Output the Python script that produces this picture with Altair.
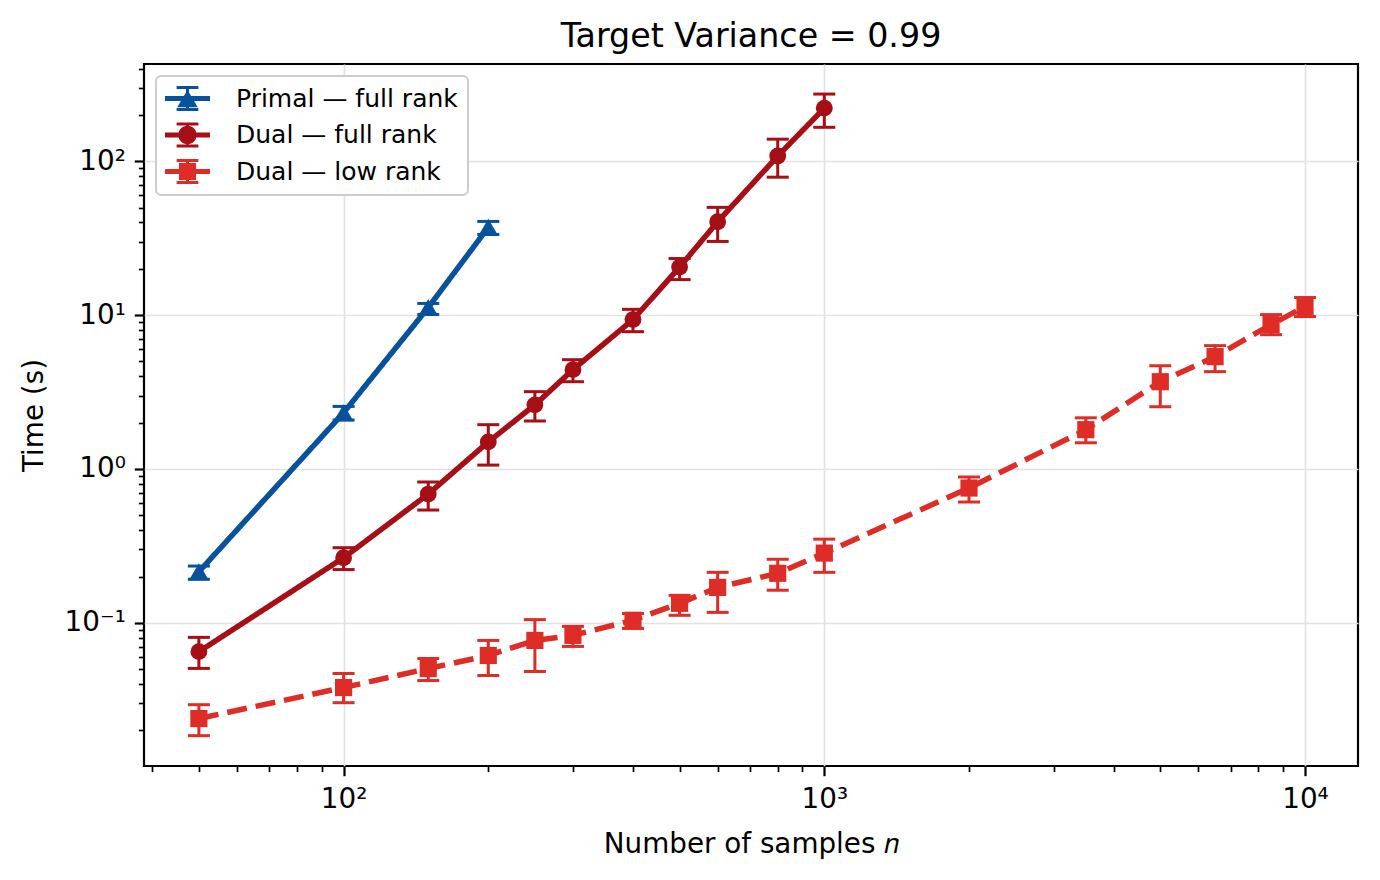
import json
import altair as alt
import pandas as pd

# ---------------- data ----------------
series_names = ["Primal — full rank", "Dual — full rank", "Dual — low rank"]
series_colors = ["#08519c", "#a50f15", "#de2d26"]

primal_n = [50, 100, 150, 200]
primal_t = [0.215, 2.32, 11.2, 37.2]
primal_lo = [0.192, 2.08, 10.1, 33.4]
primal_hi = [0.234, 2.55, 11.9, 40.6]

dualfull_n = [50, 100, 150, 200, 250, 300, 400, 500, 600, 800, 1000]
dualfull_t = [0.065, 0.265, 0.687, 1.50, 2.61, 4.42, 9.35, 20.5, 40.4, 108, 221]
dualfull_lo = [0.0506, 0.222, 0.541, 1.06, 2.05, 3.69, 7.8, 17.0, 30.1, 78.7, 166]
dualfull_hi = [0.0805, 0.308, 0.823, 1.94, 3.18, 5.13, 10.9, 23.3, 50.1, 139, 273]

duallow_n = [50, 100, 150, 200, 250, 300, 400, 500, 600, 800, 1000,
             2000, 3500, 5000, 6500, 8500, 10000]
duallow_t = [0.0239, 0.038, 0.0505, 0.0614, 0.0769, 0.083, 0.104, 0.134, 0.170,
             0.210, 0.284, 0.752, 1.80, 3.69, 5.37, 8.67, 11.36]
duallow_lo = [0.0185, 0.0303, 0.0422, 0.0455, 0.0483, 0.0703, 0.092, 0.112, 0.117,
              0.163, 0.213, 0.61, 1.48, 2.54, 4.29, 7.46, 9.78]
duallow_hi = [0.0294, 0.0469, 0.0587, 0.0769, 0.105, 0.0949, 0.115, 0.151, 0.213,
              0.259, 0.350, 0.887, 2.15, 4.69, 6.33, 10.07, 13.0]

x_domain = [38.44, 12890]
y_domain = [0.01175, 428]

x_major_ticks = [100, 1000, 10000]
x_major_labels = ["10²", "10³", "10⁴"]
x_minor_ticks = [40, 50, 60, 70, 80, 90, 200, 300, 400, 500, 600, 700, 800, 900,
                 2000, 3000, 4000, 5000, 6000, 7000, 8000, 9000]
y_major_ticks = [0.1, 1, 10, 100]
y_major_labels = ["10⁻¹", "10⁰", "10¹", "10²"]
y_minor_ticks = [0.02, 0.03, 0.04, 0.05, 0.06, 0.07, 0.08, 0.09,
                 0.2, 0.3, 0.4, 0.5, 0.6, 0.7, 0.8, 0.9,
                 2, 3, 4, 5, 6, 7, 8, 9, 20, 30, 40, 50, 60, 70, 80, 90,
                 200, 300, 400]

title_text = "Target Variance = 0.99"
x_title = "Number of samples 𝑛"
y_title = "Time (s)"

# ---------------- table ----------------
rows = []
for name, ns, ts, los, his in [
    (series_names[0], primal_n, primal_t, primal_lo, primal_hi),
    (series_names[1], dualfull_n, dualfull_t, dualfull_lo, dualfull_hi),
    (series_names[2], duallow_n, duallow_t, duallow_lo, duallow_hi),
]:
    for n, t, lo, hi in zip(ns, ts, los, his):
        rows.append({"series": name, "n": n, "t": t, "lo": lo, "hi": hi})
df = pd.DataFrame(rows)

FONT = "DejaVu Sans"


def make_axis(major, labels, minor, label_pad, title_pad):
    test = f"indexof({json.dumps(major)}, datum.value) >= 0"
    expr = " : ".join(f"datum.value == {v} ? '{l}'" for v, l in zip(major, labels)) + " : ''"
    return alt.Axis(
        values=sorted(major + minor),
        labelExpr=expr,
        tickSize={"condition": {"test": test, "value": 9.7}, "value": 5.6},
        tickWidth={"condition": {"test": test, "value": 2.2}, "value": 1.7},
        gridOpacity={"condition": {"test": test, "value": 1}, "value": 0},
        grid=True,
        gridColor="#e2e2e2",
        gridWidth=1.6,
        domain=False,
        tickColor="black",
        labelFont=FONT,
        labelFontSize=27.8,
        labelColor="black",
        labelPadding=label_pad,
        labelOverlap=False,
        labelFlush=False,
        titleFont=FONT,
        titleFontSize=27.8,
        titleFontWeight="normal",
        titleColor="black",
        titlePadding=title_pad,
    )


x_axis = make_axis(x_major_ticks, x_major_labels, x_minor_ticks, 10, 17)
y_axis = make_axis(y_major_ticks, y_major_labels, y_minor_ticks, 9, 16)

x_scale = alt.Scale(type="log", domain=x_domain, nice=False)
y_scale = alt.Scale(type="log", domain=y_domain, nice=False)
color_scale = alt.Scale(domain=series_names, range=series_colors)

X = alt.X("n:Q", scale=x_scale, axis=x_axis, title=x_title)


def Y(field):
    return alt.Y(f"{field}:Q", scale=y_scale, axis=y_axis, title=y_title)


base = alt.Chart(df)

marker_shapes = ["M0,-0.85L1,0.85L-1,0.85Z", "circle", "square"]
marker_sizes = [400, 283, 295]
dashes = [[1, 0], [1, 0], [20, 9]]

layers = []
for name, col, shp, sz, dash in zip(series_names, series_colors, marker_shapes, marker_sizes, dashes):
    sub = base.transform_filter(alt.datum.series == name)
    layers.append(sub.mark_rule(strokeWidth=3, opacity=1, color=col).encode(x=X, y=Y("lo"), y2="hi:Q"))
    layers.append(sub.mark_tick(orient="horizontal", size=22, thickness=3, opacity=1, color=col)
                  .encode(x=X, y=Y("lo")))
    layers.append(sub.mark_tick(orient="horizontal", size=22, thickness=3, opacity=1, color=col)
                  .encode(x=X, y=Y("hi")))
    layers.append(sub.mark_line(strokeWidth=5.5, opacity=1, color=col, strokeDash=dash)
                  .encode(x=X, y=Y("t")))
    layers.append(sub.mark_point(filled=True, opacity=1, shape=shp, size=sz, strokeWidth=0, color=col)
                  .encode(x=X, y=Y("t")))


# legend glyphs: line + error bar with caps + marker, as filled paths (unit = 12.5 px)
def rect(x1, y1, x2, y2):
    return f"M{x1},{y1}H{x2}V{y2}H{x1}Z"


glyph_common = (
    rect(-1.8, -0.2, 1.8, 0.2)
    + rect(-0.12, -1.0, 0.12, 1.0)
    + rect(-0.87, -1.0, 0.87, -0.76)
    + rect(-0.87, 0.76, 0.87, 1.0)
)
tri = "M0,-0.7L0.82,0.7L-0.82,0.7Z"
circ = "M0.74,0A0.74,0.74 0 1,1 -0.74,0A0.74,0.74 0 1,1 0.74,0Z"
sq = rect(-0.68, -0.68, 0.68, 0.68)
legend_paths = [glyph_common + tri, glyph_common + circ, glyph_common + sq]

leg = alt.Legend(
    title=None,
    orient="top-left",
    offset=12,
    padding=10,
    rowPadding=10.5,
    symbolSize=625,
    symbolOffset=9,
    symbolStrokeWidth=0,
    labelOffset=36,
    labelFont=FONT,
    labelFontSize=25,
    labelColor="black",
    labelLimit=500,
    fillColor="white",
    strokeColor="#cccccc",
    cornerRadius=5,
)

legend_layer = (
    base.transform_filter("false")
    .mark_point(filled=True, opacity=1, size=625, strokeWidth=0)
    .encode(
        x=X,
        y=Y("t"),
        color=alt.Color("series:N", scale=color_scale, legend=leg),
        shape=alt.Shape("series:N", scale=alt.Scale(domain=series_names, range=legend_paths), legend=leg),
    )
)

chart = (
    alt.layer(*layers, legend_layer)
    .properties(
        width=1214,
        height=702,
        title=alt.TitleParams(
            title_text, font=FONT, fontSize=33.3, fontWeight="normal",
            color="black", offset=0, anchor="middle",
        ),
        padding={"left": 136, "top": 56, "right": 14, "bottom": 106},
        autosize=alt.AutoSizeParams(type="none"),
    )
    .configure(font=FONT)
    .configure_view(stroke="black", strokeWidth=2.2)
    .configure_legend(strokeWidth=2)
)

chart.save("out.html", embed_options={"renderer": "svg", "actions": False})
